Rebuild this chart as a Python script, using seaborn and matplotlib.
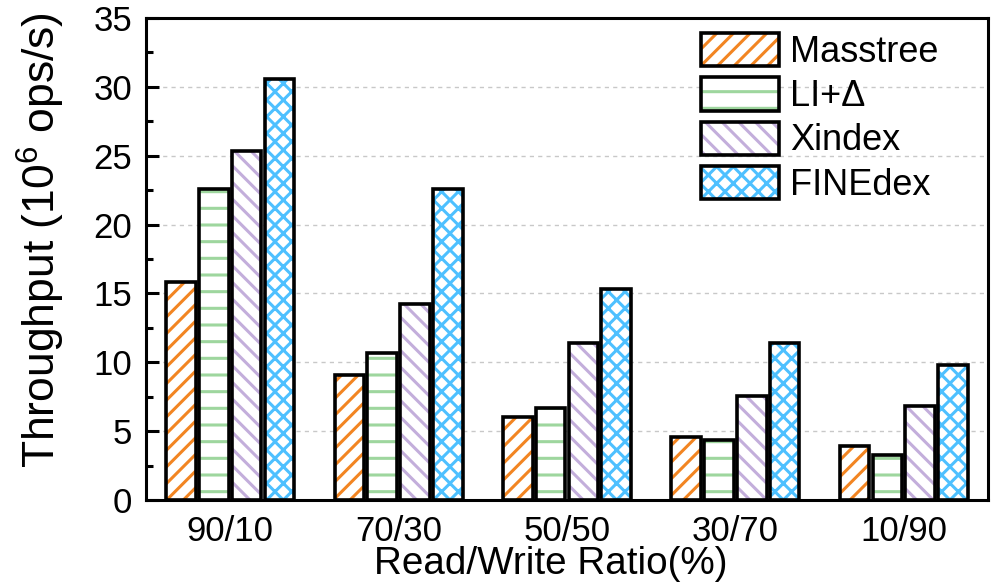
import matplotlib
matplotlib.use("Agg")
import matplotlib.pyplot as plt
from matplotlib.patches import Rectangle, Patch
from matplotlib.legend_handler import HandlerTuple
from matplotlib.ticker import MultipleLocator
import seaborn as sns
import pandas as pd

ratios = ["90/10", "70/30", "50/50", "30/70", "10/90"]
methods = ["Masstree", "LI+Δ", "Xindex", "FINEdex"]
masstree = [15.8, 9.1, 6.05, 4.55, 3.9]
li_delta = [22.6, 10.65, 6.7, 4.35, 3.25]
xindex = [25.35, 14.2, 11.4, 7.55, 6.8]
finedex = [30.55, 22.6, 15.35, 11.4, 9.8]

hatch_colors = ["#F28522", "#9ED69E", "#C3AEDB", "#4DC0FF"]
hatches = ["//", "-", "\\\\", "xx"]

sns.set_style("white")
plt.rcParams["font.family"] = ["Liberation Sans", "DejaVu Sans"]
plt.rcParams["mathtext.fontset"] = "custom"
plt.rcParams["mathtext.rm"] = "Liberation Sans"
plt.rcParams["hatch.linewidth"] = 2.2
for k in ["text.color", "axes.labelcolor", "xtick.color", "ytick.color"]:
    plt.rcParams[k] = "black"

rows = []
for m, vals in zip(methods, [masstree, li_delta, xindex, finedex]):
    for r, v in zip(ratios, vals):
        rows.append({"ratio": r, "method": m, "value": v})
df = pd.DataFrame(rows)

fig = plt.figure(figsize=(9.91, 5.86), dpi=100)
ax = fig.add_axes([146 / 991, 1 - 500 / 586, (988 - 146) / 991, (500 - 18) / 586])

sns.barplot(data=df, x="ratio", y="value", hue="method", order=ratios,
            hue_order=methods, palette=["white"] * 4, width=0.78, gap=0.1,
            legend=False, ax=ax, zorder=3)

bars = list(ax.patches)
for i, p in enumerate(bars):
    mi = i // len(ratios)
    p.set_facecolor("white")
    p.set_edgecolor(hatch_colors[mi])
    p.set_hatch(hatches[mi])
    p.set_linewidth(0)
    p.set_zorder(3)
    ax.add_patch(Rectangle(p.get_xy(), p.get_width(), p.get_height(),
                           fill=False, edgecolor="black", linewidth=2.6, zorder=4))

handles = []
for c, h in zip(hatch_colors, hatches):
    handles.append((Patch(facecolor="white", edgecolor=c, hatch=h, linewidth=0),
                    Patch(fill=False, edgecolor="black", linewidth=2.6)))
ax.legend(handles, methods, handler_map={tuple: HandlerTuple(ndivide=1, pad=0)},
          loc="upper left", bbox_to_anchor=(0.659, 0.968), frameon=False,
          fontsize=26, handlelength=2.16, handleheight=1.03, labelspacing=0.2,
          handletextpad=0.3, borderpad=0.0, borderaxespad=0)

ax.set_xlim(-0.5, 4.5)
ax.set_ylim(0, 35)
ax.yaxis.set_major_locator(MultipleLocator(5))
ax.yaxis.set_minor_locator(MultipleLocator(2.5))
ax.grid(axis="y", which="major", linestyle=(0, (3, 3)), color="#c8c8c8", linewidth=1.0, zorder=0)
ax.set_axisbelow(True)

for s in ax.spines.values():
    s.set_visible(True)
    s.set_linewidth(2.2)
    s.set_color("black")

ax.tick_params(axis="y", which="major", direction="in", length=9, width=2.2,
               labelsize=25, left=True, right=False, pad=10)
ax.tick_params(axis="y", which="minor", direction="in", length=5, width=2.2,
               left=True, right=False)
ax.tick_params(axis="x", which="both", length=0, labelsize=25, pad=11)

ax.set_xlabel("Read/Write Ratio(%)", fontsize=27.8)
ax.set_ylabel(r"Throughput (10$^{6}$ ops/s)", fontsize=32)
ax.xaxis.set_label_coords(0.481, -0.095)
ax.yaxis.set_label_coords(-0.094, 0.54)

fig.savefig("out.png", dpi=100)
